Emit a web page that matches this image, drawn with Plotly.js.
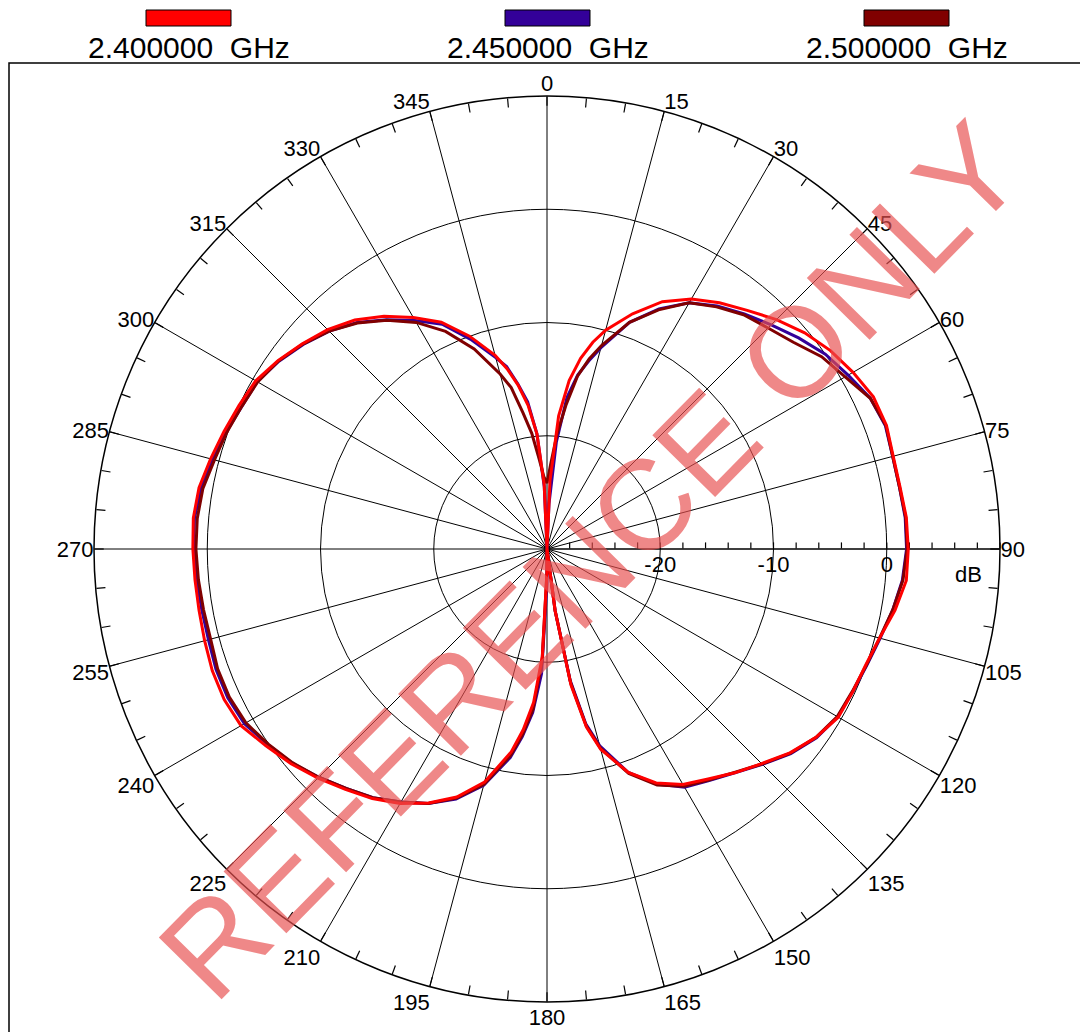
<!DOCTYPE html>
<html>
<head>
<meta charset="utf-8">
<script src="https://cdn.plot.ly/plotly-3.0.1.min.js"></script>
<style>html,body{margin:0;padding:0;background:#fff;}#chart{width:1080px;height:1032px;}</style>
</head>
<body>
<div id="chart"></div>
<script>
// ---- data ----
const seriesNames = ["2.400000  GHz", "2.450000  GHz", "2.500000  GHz"];
const seriesColors = ["#ff0000", "#330099", "#800000"];

const theta = [0, 2.5, 5, 7.5, 10, 12.5, 15, 20, 25, 30, 35, 40, 45, 50, 55, 60, 65, 70, 75, 80, 85,
  90, 95, 100, 105, 110, 115, 120, 125, 130, 135, 140, 145, 150, 155, 160, 165, 167.5, 170, 172.5, 175, 177.5,
  180, 182.5, 185, 187.5, 190, 195, 200, 205, 210, 215, 220, 225, 230, 235, 240, 245, 250, 255, 260, 265,
  270, 275, 280, 285, 290, 295, 300, 305, 310, 315, 320, 325, 330, 335, 340, 345, 347.5, 350, 352.5, 355, 357.5, 360];

const gain240 = [-30, -24.0, -18.2, -15.0, -12.9, -11.3, -10.0, -7.9, -5.9, -4.5, -3.45, -2.5, -1.35, -0.3, 0.55, 1.2, 1.8, 1.9, 1.65, 1.65, 1.85,
  1.9, 1.85, 1.2, 0.4, -0.05, -0.2, -0.3, -1.0, -2.0, -3.2, -4.2, -5.2, -6.0, -7.2, -9.0, -11.7, -13.9, -17.8, -24.5, -30, -30,
  -28, -20.5, -16.4, -13.9, -11.8, -8.7, -6.7, -5.25, -4.05, -3.1, -2.3, -1.4, -0.5, 0.3, 1.2, 1.45, 1.45, 1.3, 1.2, 1.2,
  1.27, 1.35, 1.2, 0.75, 0.35, 0.0, -0.3, -1.0, -1.8, -2.6, -3.6, -4.9, -6.4, -7.9, -10.0, -12.3, -13.7, -15.3, -17.2, -19.8, -24.3, -30];

const gain245 = [-30, -26.0, -20.5, -16.5, -14.4, -13.0, -11.6, -8.7, -6.6, -4.9, -3.8, -2.9, -2.0, -1.0, 0.0, 0.7, 1.5, 1.8, 1.6, 1.6, 1.75,
  1.75, 1.5, 1.0, 0.45, 0.05, -0.2, -0.35, -0.95, -1.9, -3.1, -4.2, -5.05, -5.7, -7.1, -9.0, -12.0, -14.2, -18.2, -24.5, -30, -30,
  -27, -19.0, -15.5, -13.3, -11.3, -8.4, -6.5, -5.2, -4.2, -3.2, -2.4, -1.5, -0.6, 0.1, 0.85, 1.1, 1.1, 0.95, 0.95, 1.05,
  1.2, 1.25, 1.0, 0.55, 0.15, -0.25, -0.45, -1.1, -1.9, -2.8, -3.9, -5.3, -6.7, -8.1, -10.3, -12.5, -13.5, -15.2, -16.9, -19.8, -24.5, -30];

const gain250 = [-24.2, -22.5, -19.8, -17.2, -14.5, -12.8, -11.4, -8.7, -6.7, -4.9, -3.9, -3.0, -2.4, -1.6, -0.4, 0.4, 1.5, 1.85, 1.6, 1.6, 1.8,
  1.8, 1.55, 1.0, 0.4, 0.0, -0.25, -0.4, -1.0, -1.95, -3.15, -4.25, -5.1, -5.8, -7.0, -8.9, -11.8, -14.0, -18.0, -24.5, -30, -30,
  -28, -20.0, -15.8, -13.5, -11.5, -8.5, -6.6, -5.2, -4.2, -3.2, -2.4, -1.5, -0.65, 0.05, 0.7, 0.95, 0.95, 0.75, 0.8, 0.9,
  1.0, 1.0, 0.85, 0.4, 0.1, -0.25, -0.5, -1.05, -1.85, -2.8, -3.95, -5.35, -6.9, -8.8, -11.2, -14.0, -15.4, -17.8, -19.7, -22.0, -23.6, -24.2];

const angleTicks = [0, 15, 30, 45, 60, 75, 90, 105, 120, 135, 150, 165, 180, 195, 210, 225, 240, 255, 270, 285, 300, 315, 330, 345];
const angleTickLabels = angleTicks.map(String);
const minorAngleTicks = Array.from({length: 72}, (_, i) => i * 5);
const dbTicks = [-20, -10, 0];
const dbTickLabels = ["-20", "-10", "0"];
const dbMinorTicks = [-30, -28, -26, -24, -22, -20, -18, -16, -14, -12, -10, -8, -6, -4, -2, 0, 2, 4, 6, 8, 10];
const radialRange = [-30, 10];

// ---- geometry helpers ----
const W = 1080, H = 1032;
const px = x => x / W;
const py = y => 1 - y / H;
const FONT = "Liberation Sans, Arial, Helvetica, sans-serif";

const cx = 547, cy = 549, R = 453;
const dom = {x: [px(cx - R), px(cx + R)], y: [py(cy + R), py(cy - R)]};

const traces = [];
// helper trace so the tick-only polar subplot is created
traces.push({type: "scatterpolar", subplot: "polar", r: [radialRange[0]], theta: [0], mode: "markers",
  marker: {opacity: 0}, hoverinfo: "skip", showlegend: false});

const gains = [gain240, gain245, gain250];
const drawOrder = [1, 2, 0];
drawOrder.forEach(i => {
  traces.push({type: "scatterpolar", subplot: "polar2", r: gains[i], theta: theta, mode: "lines",
    name: seriesNames[i], line: {color: seriesColors[i], width: 3}, hoverinfo: "skip", showlegend: false});
});

const shapes = [
  {type: "rect", xref: "paper", yref: "paper", x0: px(9), x1: px(1095), y0: py(1050), y1: py(63),
   line: {color: "#000", width: 1.5}, fillcolor: "rgba(0,0,0,0)", layer: "below"}
];
const legendCenters = [188.5, 547.5, 906.5];
const annotations = [];
seriesNames.forEach((n, i) => {
  const c = legendCenters[i];
  shapes.push({type: "rect", xref: "paper", yref: "paper", x0: px(c - 42.5), x1: px(c + 42.5), y0: py(26), y1: py(10),
    line: {color: "#000", width: 1}, fillcolor: seriesColors[i]});
  annotations.push({xref: "paper", yref: "paper", x: px(c), y: py(47.5), text: n, showarrow: false,
    xanchor: "center", yanchor: "middle", font: {family: FONT, size: 30, color: "#000"}});
});
annotations.push({xref: "paper", yref: "paper", x: px(968), y: py(574), text: "dB", showarrow: false,
  xanchor: "center", yanchor: "middle", font: {family: FONT, size: 22, color: "#000"}});
annotations.push({xref: "paper", yref: "paper", x: px(590), y: py(560), text: "REFERENCE ONLY", showarrow: false,
  textangle: -45.5, xanchor: "center", yanchor: "middle",
  font: {family: FONT, size: 128, color: "rgba(232,80,80,0.68)"}});

const layout = {
  width: W, height: H,
  margin: {l: 0, r: 0, t: 0, b: 0},
  paper_bgcolor: "#fff",
  showlegend: false,
  font: {family: FONT, color: "#000"},
  polar: {
    domain: dom, bgcolor: "#fff",
    angularaxis: {rotation: 90, direction: "clockwise", tickmode: "array", tickvals: minorAngleTicks,
      ticks: "inside", ticklen: 9, tickwidth: 1.2, tickcolor: "#000", showticklabels: false,
      showgrid: false, showline: true, linecolor: "#000", linewidth: 1.5},
    radialaxis: {range: radialRange, angle: 0, tickmode: "array", tickvals: dbMinorTicks, ticks: "outside",
      ticklen: 6, tickwidth: 1.2, tickcolor: "#000", side: "counterclockwise", showticklabels: false,
      showgrid: false, showline: true, linecolor: "#000", linewidth: 1.2}
  },
  polar2: {
    domain: dom, bgcolor: "rgba(0,0,0,0)",
    angularaxis: {rotation: 90, direction: "clockwise", tickmode: "array", tickvals: angleTicks, ticktext: angleTickLabels,
      ticks: "", showgrid: true, gridcolor: "#000", gridwidth: 1, showline: false,
      tickfont: {family: FONT, size: 22, color: "#000"}},
    radialaxis: {range: radialRange, angle: 0, tickmode: "array", tickvals: dbTicks, ticktext: dbTickLabels,
      ticks: "", side: "clockwise", showgrid: true, gridcolor: "#000", gridwidth: 1, showline: false,
      tickfont: {family: FONT, size: 22, color: "#000"}}
  },
  shapes: shapes,
  annotations: annotations
};

Plotly.newPlot("chart", traces, layout, {displayModeBar: false, staticPlot: true});
</script>
</body>
</html>
